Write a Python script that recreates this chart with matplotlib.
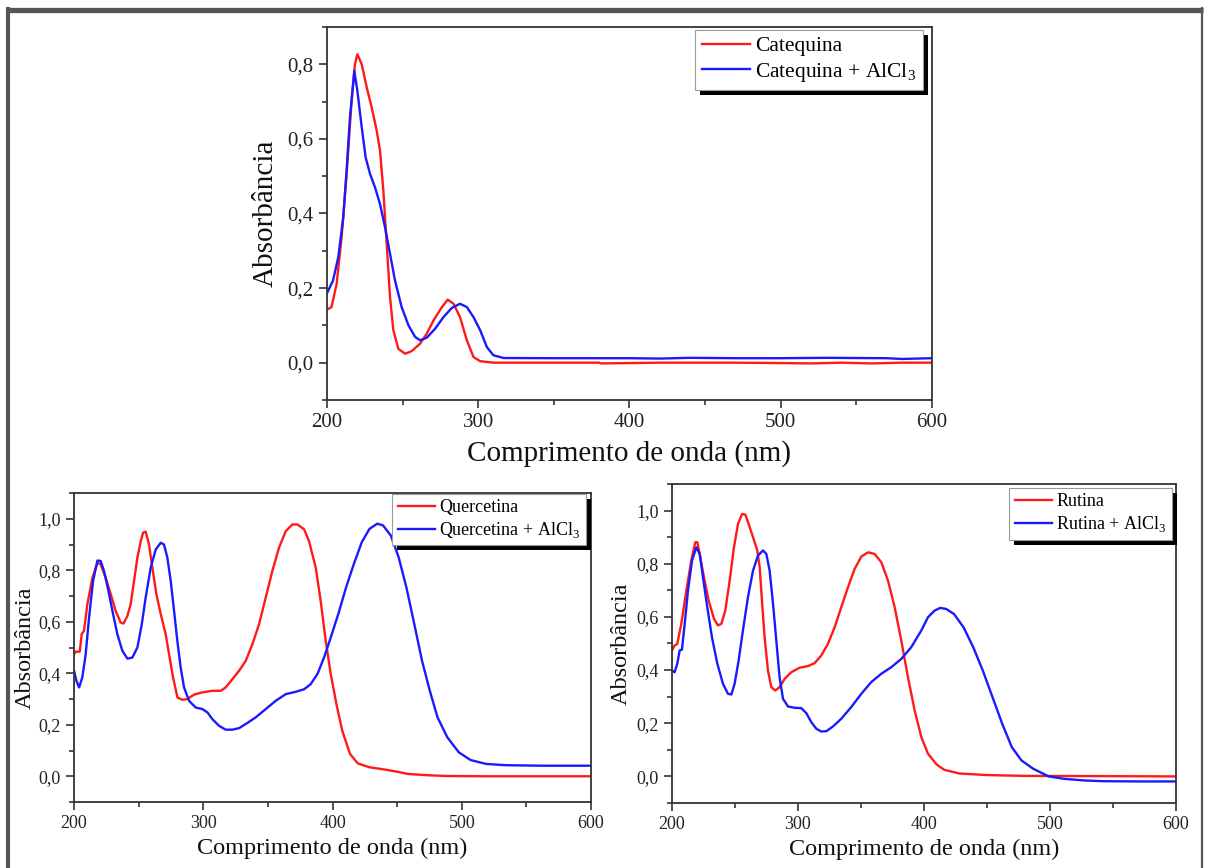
import matplotlib
matplotlib.use("Agg")
import matplotlib.pyplot as plt
from matplotlib.ticker import MultipleLocator, FuncFormatter
from matplotlib.patches import Rectangle
from matplotlib.lines import Line2D
from matplotlib.transforms import IdentityTransform

plt.rcParams['font.family'] = ['Liberation Serif', 'DejaVu Serif']
plt.rcParams['mathtext.fontset'] = 'custom'
plt.rcParams['mathtext.rm'] = 'Liberation Serif'

# Catequina spectra
cat_wl = [200, 203, 206.4, 209.7, 213, 216.3, 218.5, 220.1, 223, 226.3, 229.6, 232.9, 235.1,
          237.3, 239.5, 241.7, 243.9, 247.2, 251.7, 256, 261.6, 266, 270.4, 276, 279.9, 283.7,
          288, 292.5, 296.9, 301.3, 310, 340, 380, 381, 420, 470, 500, 520, 540, 560, 580, 600]
cat_abs = [0.142, 0.149, 0.211, 0.336, 0.506, 0.702, 0.80, 0.827, 0.80, 0.738, 0.684, 0.622, 0.568,
           0.461, 0.318, 0.176, 0.087, 0.037, 0.024, 0.031, 0.051, 0.078, 0.113, 0.149, 0.169, 0.158,
           0.122, 0.060, 0.015, 0.004, 0.0, 0.0, 0.0, -0.002, 0.0, 0.0, -0.001, -0.002, 0.0, -0.002, 0.0, 0.0]
cat_al_wl = [200, 204, 207.5, 210.8, 213, 215.2, 218.1, 220.1, 223, 225.6, 228.5, 231.8, 235.1,
             238.4, 241.7, 245, 249.4, 253.9, 258.3, 261.6, 266, 271.5, 277, 282.6, 288, 292.5,
             296.9, 301.3, 305.7, 310, 316.8, 350, 400, 420, 440, 470, 500, 530, 570, 580, 600]
cat_al_abs = [0.186, 0.22, 0.283, 0.39, 0.515, 0.657, 0.782, 0.729, 0.631, 0.55, 0.506, 0.47, 0.425,
              0.363, 0.292, 0.22, 0.149, 0.10, 0.069, 0.06, 0.067, 0.091, 0.122, 0.147, 0.158, 0.149,
              0.122, 0.087, 0.042, 0.02, 0.0125, 0.012, 0.012, 0.011, 0.013, 0.012, 0.012, 0.013, 0.012, 0.010, 0.012]

# Quercetina spectra
que_wl = [200, 201.3, 204.4, 205.9, 207.7, 210.3, 214.2, 218.1, 220.6, 224.5, 228.4, 232.2, 236.1,
          238.2, 241.3, 243.8, 246.4, 249, 251.6, 253.4, 255.4, 258, 260.6, 263.7, 267.1, 270.9,
          273.5, 276.6, 280, 283.8, 287.7, 292.8, 299.3, 307, 313.5, 317.3, 322.5, 327.7, 332.8,
          338, 343.1, 348.3, 353.4, 358.6, 363.8, 368.9, 372.8, 378, 381.8, 387, 390.8, 394.7,
          398.5, 403, 407.5, 413.5, 419.5, 428.6, 440.6, 449.6, 458.6, 473.7, 488.7, 520, 600]
que_abs = [0.474, 0.484, 0.484, 0.552, 0.565, 0.668, 0.771, 0.829, 0.823, 0.771, 0.707, 0.642, 0.597,
           0.593, 0.623, 0.668, 0.758, 0.849, 0.913, 0.946, 0.950, 0.90, 0.81, 0.707, 0.629, 0.552,
           0.474, 0.384, 0.306, 0.297, 0.30, 0.317, 0.326, 0.332, 0.332, 0.345, 0.377, 0.41, 0.448,
           0.513, 0.59, 0.694, 0.797, 0.888, 0.952, 0.978, 0.978, 0.959, 0.913, 0.81, 0.681, 0.526,
           0.40, 0.28, 0.177, 0.087, 0.05, 0.035, 0.026, 0.018, 0.009, 0.004, 0.001, 0.0, 0.0]
que_al_wl = [200, 201.8, 203.9, 206.4, 209, 211.6, 214.7, 218.1, 220.6, 223.2, 226.6, 229.7, 233.5,
             237.4, 241.3, 245.1, 249, 252.4, 255.4, 259.3, 263.2, 267.1, 269.6, 272.2, 274.8, 277.4,
             279.9, 282.5, 285.1, 289, 294.1, 299.3, 303.2, 307, 312.2, 317.3, 322.5, 327.7, 334.1,
             340.6, 348.3, 356, 363.8, 371.5, 378, 383.1, 388.3, 393.4, 397.3, 404.5, 410.5, 416.5,
             422.6, 428.6, 434.6, 439.1, 445.1, 451.1, 457.1, 463.2, 469.2, 475.2, 481.2, 488.7,
             497.7, 506.8, 518.8, 533.8, 564, 600]
que_al_abs = [0.41, 0.371, 0.345, 0.384, 0.474, 0.616, 0.758, 0.838, 0.836, 0.797, 0.72, 0.642, 0.552,
              0.487, 0.457, 0.461, 0.50, 0.59, 0.694, 0.81, 0.881, 0.907, 0.90, 0.849, 0.758, 0.642,
              0.526, 0.422, 0.345, 0.293, 0.267, 0.261, 0.248, 0.222, 0.196, 0.181, 0.181, 0.187, 0.207,
              0.229, 0.261, 0.293, 0.319, 0.328, 0.338, 0.358, 0.397, 0.461, 0.519, 0.631, 0.734, 0.825,
              0.909, 0.961, 0.981, 0.974, 0.935, 0.851, 0.734, 0.592, 0.449, 0.333, 0.229, 0.152,
              0.093, 0.063, 0.048, 0.043, 0.041, 0.041]

# Rutina spectra
rut_wl = [200, 202, 204.2, 207.4, 211.4, 215.3, 218.5, 220.1, 222, 225.4, 229.1, 233.3, 236.5,
          239.2, 242.3, 245.8, 249.2, 252.4, 255.6, 258.2, 260.8, 264.3, 267.7, 269.6, 271.4, 273.5,
          276.2, 278.8, 282, 285.4, 289.4, 294.7, 301.3, 307.9, 313.2, 318.5, 323.8, 329.1, 334.4,
          339.7, 345, 350.3, 355.6, 360.8, 366.1, 371.4, 376.7, 382, 387.3, 392.6, 397.9, 403.2,
          410, 416, 428, 450, 480, 600]
rut_abs = [0.474, 0.492, 0.499, 0.574, 0.699, 0.812, 0.881, 0.881, 0.837, 0.749, 0.662, 0.593, 0.568,
           0.574, 0.624, 0.737, 0.862, 0.95, 0.987, 0.985, 0.95, 0.90, 0.85, 0.787, 0.662, 0.524,
           0.398, 0.336, 0.323, 0.336, 0.367, 0.392, 0.409, 0.415, 0.426, 0.455, 0.499, 0.561, 0.637,
           0.712, 0.781, 0.827, 0.843, 0.837, 0.806, 0.737, 0.637, 0.511, 0.373, 0.248, 0.148, 0.085,
           0.045, 0.025, 0.011, 0.005, 0.002, 0.0]
rut_al_wl = [200, 202.1, 204.2, 206.1, 207.9, 210.1, 212.7, 215.9, 219.3, 222, 224.6, 228, 231.7,
             236, 240.5, 244.4, 247.1, 249.7, 252.9, 256.3, 260.3, 264.3, 268.3, 272.2, 274.9, 277.5,
             280.2, 282.8, 285.4, 288.1, 292.1, 297.4, 302.6, 306.6, 310.6, 314.6, 318.5, 322.5,
             327.8, 334.4, 342.3, 350.3, 358.2, 366.1, 374.1, 382, 389.9, 397.9, 403.2, 408.5, 413,
             417.6, 423.8, 431.4, 439.1, 446.7, 454.4, 462.1, 469.7, 477.4, 486.6, 498.9, 511.1,
             526.4, 541.8, 572.4, 600]
rut_al_abs = [0.398, 0.392, 0.424, 0.474, 0.477, 0.574, 0.699, 0.812, 0.862, 0.837, 0.749, 0.637, 0.524,
              0.424, 0.348, 0.311, 0.308, 0.348, 0.436, 0.549, 0.674, 0.774, 0.831, 0.85, 0.837, 0.774,
              0.649, 0.511, 0.373, 0.292, 0.263, 0.258, 0.257, 0.238, 0.204, 0.179, 0.169, 0.17,
              0.188, 0.217, 0.261, 0.311, 0.355, 0.386, 0.411, 0.442, 0.486, 0.549, 0.599, 0.624, 0.634,
              0.63, 0.611, 0.561, 0.486, 0.398, 0.298, 0.198, 0.11, 0.06, 0.029, 0.0, -0.009,
              -0.015, -0.018, -0.019, -0.019]

RED = '#ff1a1a'
BLUE = '#1a1aff'
AXCOL = '#333333'

fig = plt.figure(figsize=(12.06, 8.68), dpi=100)
fig.patch.set_facecolor('white')

comma = FuncFormatter(lambda v, pos: f"{v:.1f}".replace('.', ','))


def spectrum_axes(rect, ymax, tick_fs, label_fs):
    ax = fig.add_axes(rect)
    ax.set_xlim(200, 600)
    ax.set_ylim(-0.1, ymax)
    ax.xaxis.set_major_locator(MultipleLocator(100))
    ax.xaxis.set_minor_locator(MultipleLocator(50))
    ax.yaxis.set_major_locator(MultipleLocator(0.2))
    ax.yaxis.set_minor_locator(MultipleLocator(0.1))
    ax.yaxis.set_major_formatter(comma)
    ax.tick_params(which='both', direction='out', color=AXCOL, width=1.2,
                   labelsize=tick_fs, labelcolor='#222222')
    ax.tick_params(which='major', length=6)
    ax.tick_params(which='minor', length=3.5)
    for sp in ax.spines.values():
        sp.set_color(AXCOL)
        sp.set_linewidth(1.3)
    ax.set_xlabel('Comprimento de onda (nm)', fontsize=label_fs, color='#111111')
    ax.set_ylabel('Absorbância', fontsize=label_fs, color='#111111')
    return ax


def add_legend(ax, labels, fs, anchor, hlen):
    leg = ax.legend(labels, loc='upper right', bbox_to_anchor=anchor,
                    bbox_transform=ax.transAxes, fontsize=fs, frameon=True,
                    fancybox=False, framealpha=1, edgecolor='#999999',
                    borderpad=0.3, handlelength=hlen, handletextpad=0.25,
                    labelspacing=0.22, borderaxespad=0)
    leg.get_frame().set_linewidth(0.8)
    return leg


# top panel
ax1 = spectrum_axes([0.2711, 0.5392, 0.5017, 0.4297], 0.9, 15, 21)
ax1.plot(cat_wl, cat_abs, color=RED, lw=1.7)
ax1.plot(cat_al_wl, cat_al_abs, color=BLUE, lw=1.7)
ax1.xaxis.labelpad = 6
ax1.yaxis.labelpad = 6
leg1 = add_legend(ax1, ['Catequina', r'Catequina + AlCl$_{\mathregular{3}}$'], 15.5, (0.985, 0.993), 2.25)

# bottom left panel
ax2 = spectrum_axes([0.0614, 0.0760, 0.4287, 0.3560], 1.1, 13, 17.5)
ax2.plot(que_wl, que_abs, color=RED, lw=1.7)
ax2.plot(que_al_wl, que_al_abs, color=BLUE, lw=1.7)
ax2.yaxis.labelpad = 2
leg2 = add_legend(ax2, ['Quercetina', r'Quercetina + AlCl$_{\mathregular{3}}$'], 13, (0.99, 0.998), 2.05)

# bottom right panel
ax3 = spectrum_axes([0.5572, 0.0749, 0.4179, 0.3675], 1.1, 13, 17.5)
ax3.plot(rut_wl, rut_abs, color=RED, lw=1.7)
ax3.plot(rut_al_wl, rut_al_abs, color=BLUE, lw=1.7)
ax3.yaxis.labelpad = 3
leg3 = add_legend(ax3, ['Rutina', r'Rutina + AlCl$_{\mathregular{3}}$'], 13, (0.992, 0.988), 2.05)

# black drop shadows behind the legend boxes
fig.canvas.draw()
renderer = fig.canvas.get_renderer()
for ax, leg in [(ax1, leg1), (ax2, leg2), (ax3, leg3)]:
    bb = leg.get_frame().get_window_extent(renderer)
    shadow = Rectangle((bb.x0 + 5, bb.y0 - 5), bb.width, bb.height,
                       transform=IdentityTransform(), facecolor='black',
                       edgecolor='none', zorder=4.9, clip_on=False)
    ax.add_artist(shadow)

# page frame
W, H = 1206, 868
frame_kw = dict(color='#555555', transform=fig.transFigure, solid_capstyle='butt')
fig.add_artist(Line2D([6 / W, 1203 / W], [1 - 9.5 / H, 1 - 9.5 / H], lw=3.8, **frame_kw))
fig.add_artist(Line2D([8 / W, 8 / W], [0, 1 - 7 / H], lw=3.0, **frame_kw))
fig.add_artist(Line2D([1202 / W, 1202 / W], [0, 1 - 7 / H], lw=1.6, **frame_kw))

fig.savefig('out.png', dpi=100, facecolor='white')
